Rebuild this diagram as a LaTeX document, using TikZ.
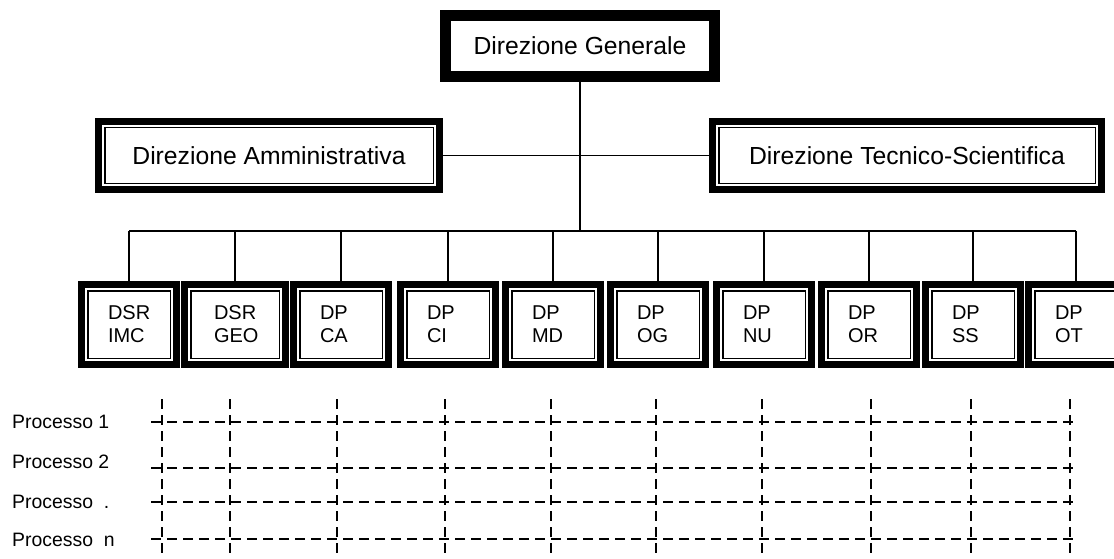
\documentclass[tikz,border=0pt]{standalone}
\usepackage{fontspec}
\setmainfont{Liberation Sans}
\begin{document}
\begin{tikzpicture}[x=1pt,y=-1pt,
  topbox/.style={draw, line width=11pt, inner sep=0pt, outer sep=0pt,
    minimum width=269pt, minimum height=61pt,
    font=\fontsize{24.7}{28}\selectfont},
  headbox/.style={draw, line width=7pt, inner sep=0pt, outer sep=0pt,
    minimum height=68pt, font=\fontsize{24.7}{28}\selectfont},
  unitbox/.style={draw, line width=7pt, inner sep=0pt, outer sep=0pt,
    minimum width=95pt, minimum height=80pt, text width=42pt, align=left,
    font=\fontsize{20}{23}\selectfont},
  innerline/.style={line width=1.5pt},
  link/.style={line width=1.2pt},
  trunk/.style={line width=2.6pt},
  bus/.style={line width=2pt},
  drop/.style={line width=1.5pt},
  grid/.style={line width=1.8pt, dash pattern=on 10pt off 6pt},
  proc/.style={anchor=base west, inner sep=0pt, font=\fontsize{19.4}{22}\selectfont}
]
\useasboundingbox (0,0) rectangle (1114,559);
\clip (0,0) rectangle (1114,559);

% management
\node[topbox] (dg) at (580,46) {Direzione Generale};
\node[headbox, minimum width=341pt] (da) at (269,155.5) {Direzione Amministrativa};
\node[headbox, minimum width=389pt] (dt) at (907,155.5) {Direzione Tecnico-Scientifica};

% departments
\foreach \name/\cx/\w/\txt in {
  b1/129/95/{DSR\\IMC}, b2/235/101/{DSR\\GEO}, b3/341/95/{DP\\CA},
  b4/448/95/{DP\\CI}, b5/553/95/{DP\\MD}, b6/658/95/{DP\\OG},
  b7/764/95/{DP\\NU}, b8/869/95/{DP\\OR}, b9/973/95/{DP\\SS},
  b10/1076/95/{DP\\OT}}
  \node[unitbox, minimum width=\w pt] (\name) at (\cx,324.5) {\txt};

% inner thin frames of the double-bordered boxes
\foreach \n in {da,dt,b1,b2,b3,b4,b5,b6,b7,b8,b9,b10}
  \draw[innerline] ([shift={(6.25pt,-6.25pt)}]\n.north west)
    rectangle ([shift={(-6.25pt,6.25pt)}]\n.south east);

% connectors
\coordinate (bus) at (580,231);
\draw[link] (da.east) -- (dt.west);
\draw[trunk] (dg.south) -- (bus);
\draw[bus] (b1.north |- bus) -- (b10.north |- bus);
\foreach \n in {b1,b2,b3,b4,b5,b6,b7,b8,b9,b10}
  \draw[drop] (\n.north |- bus) -- (\n.north);

% process matrix
\foreach \x in {162,230,337,445,551,656,762,871,971,1070}
  \draw[grid] (\x,399) -- (\x,565);
\foreach \y in {422,468,502,539}
  \draw[grid] (151,\y) -- (1076,\y);

\node[proc] (p1) at (12,428) {Processo 1};
\node[proc] (p2) at (12,468) {Processo 2};
\node[proc] (p3) at (12,508) {Processo\ \ .};
\node[proc] (p4) at (12,546) {Processo\ \ n};
\end{tikzpicture}
\end{document}
